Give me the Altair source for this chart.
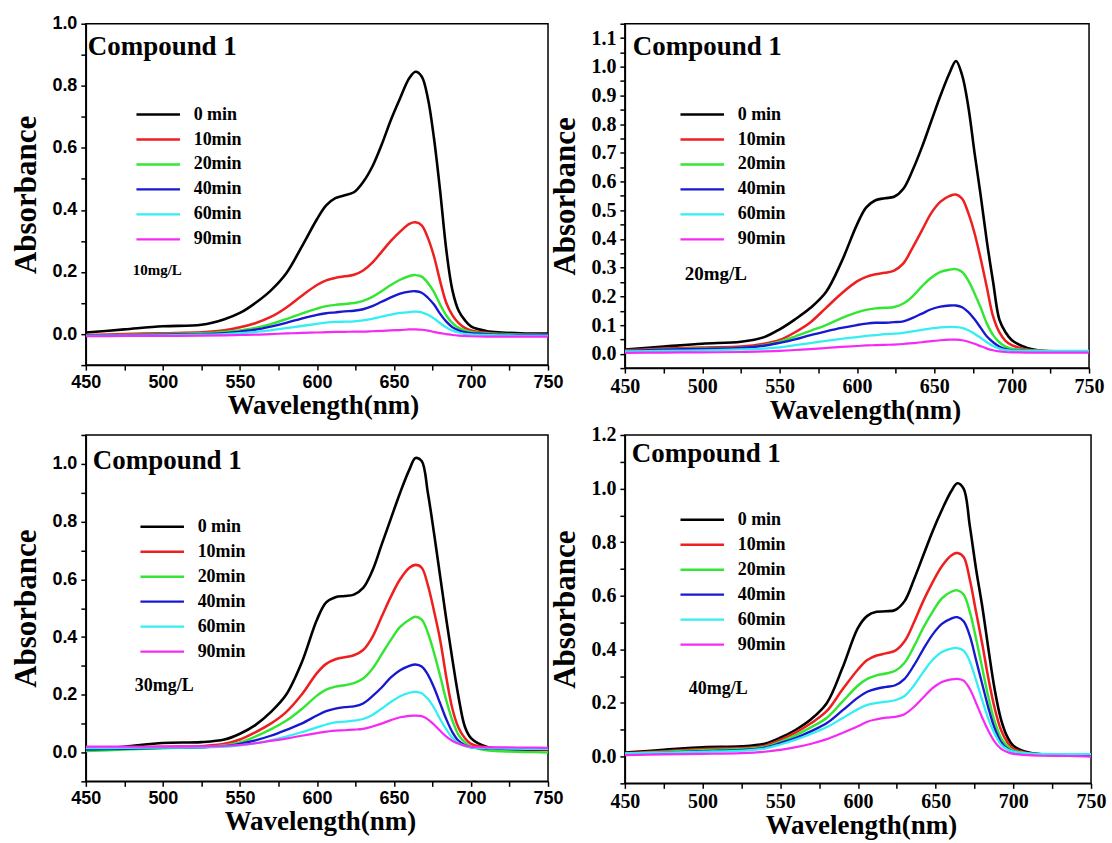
import altair as alt
import pandas as pd

WL = [450, 475, 500, 525, 540, 550, 560, 570, 580, 590, 600, 606, 612, 618, 624, 630, 636,
      642, 648, 654, 660, 664, 668, 672, 676, 680, 684, 688, 692, 696, 700, 710, 720, 735, 750]

SERIES = ["0 min", "10min", "20min", "40min", "60min", "90min"]
COLORS = ["#000000", "#ee1f1f", "#33e633", "#1818d0", "#33eef2", "#f52af5"]
WIDTHS = [2.6, 2.2, 2.2, 2.2, 2.2, 2.2]

# ---- 10 mg/L ----
P1_0 = [.005, .015, .025, .03, .048, .068, .10, .14, .195, .28, .37, .415, .438, .447, .457, .49, .54,
        .61, .69, .76, .825, .845, .83, .76, .63, .46, .27, .14, .075, .045, .025, .01, .005, .002, .002]
P1_10 = [-.003, 0, .003, .006, .012, .022, .035, .055, .085, .123, .158, .173, .181, .186, .191, .205, .23,
         .265, .30, .33, .355, .36, .35, .31, .25, .17, .10, .06, .035, .02, .012, .004, 0, -.002, -.003]
P1_20 = [-.005, -.003, 0, .003, .007, .012, .02, .032, .048, .066, .082, .09, .094, .097, .10, .107, .12,
         .138, .158, .175, .187, .19, .185, .165, .135, .095, .06, .035, .02, .012, .007, .002, 0, -.002, -.003]
P1_40 = [-.005, -.004, -.002, 0, .003, .008, .014, .024, .036, .05, .062, .067, .07, .073, .075, .08, .09,
         .104, .118, .13, .137, .138, .133, .117, .095, .065, .04, .022, .012, .006, .003, 0, -.002, -.003, -.003]
P1_60 = [-.006, -.005, -.004, -.002, 0, .003, .007, .012, .019, .026, .033, .037, .039, .04, .041, .044, .049,
         .056, .063, .068, .071, .072, .07, .062, .05, .035, .021, .011, .005, .001, -.001, -.003, -.004, -.005, -.005]
P1_90 = [-.007, -.006, -.006, -.005, -.004, -.003, -.002, 0, .002, .004, .005, .006, .007, .007, .008, .008, .009,
         .01, .012, .013, .015, .015, .014, .011, .007, .003, 0, -.003, -.005, -.006, -.007, -.008, -.008, -.008, -.008]

# ---- 20 mg/L ----
P2_0 = [.015, .025, .035, .042, .058, .085, .12, .16, .215, .32, .45, .51, .535, .542, .547, .575, .64,
        .72, .81, .90, .98, 1.02, .97, .86, .70, .55, .39, .25, .12, .075, .048, .02, .01, .008, .008]
P2_10 = [.012, .018, .022, .025, .035, .048, .075, .11, .16, .21, .252, .268, .277, .282, .29, .315, .37,
         .43, .49, .53, .55, .555, .54, .49, .42, .33, .23, .13, .075, .045, .03, .015, .01, .008, .008]
P2_20 = [.01, .015, .018, .02, .03, .042, .06, .08, .10, .124, .144, .153, .158, .16, .163, .175, .20,
         .235, .265, .285, .293, .295, .285, .255, .21, .16, .105, .065, .04, .025, .018, .012, .01, .008, .008]
P2_40 = [.01, .014, .017, .02, .028, .038, .05, .065, .078, .09, .10, .105, .108, .108, .11, .113, .125,
         .14, .155, .164, .168, .168, .162, .145, .12, .09, .06, .04, .025, .016, .012, .01, .009, .008, .008]
P2_60 = [.008, .01, .012, .015, .018, .022, .03, .037, .045, .052, .058, .062, .065, .068, .07, .073, .078,
         .083, .088, .092, .094, .093, .09, .082, .07, .055, .04, .027, .018, .013, .011, .01, .01, .01, .01]
P2_90 = [.003, .004, .005, .006, .008, .01, .013, .016, .02, .024, .027, .029, .03, .031, .032, .034, .037,
         .04, .044, .047, .049, .049, .047, .042, .035, .026, .018, .012, .008, .006, .005, .004, .004, .004, .004]

# ---- 30 mg/L ----
P3_0 = [.01, .02, .033, .036, .045, .065, .095, .14, .20, .31, .46, .52, .538, .542, .547, .57, .63,
        .72, .81, .90, .98, 1.02, 1.01, .90, .76, .61, .46, .32, .19, .09, .05, .02, .012, .01, .01]
P3_10 = [.015, .018, .02, .022, .03, .045, .07, .10, .14, .20, .275, .307, .323, .33, .337, .355, .40,
         .47, .54, .60, .64, .65, .64, .58, .49, .39, .26, .15, .085, .05, .03, .018, .015, .012, .01]
P3_20 = [.005, .01, .015, .018, .025, .035, .055, .08, .11, .15, .197, .218, .228, .233, .24, .256, .29,
         .34, .39, .435, .46, .47, .46, .415, .345, .265, .18, .11, .06, .035, .02, .008, .004, .002, 0]
P3_40 = [.01, .013, .016, .018, .022, .03, .042, .058, .078, .10, .128, .143, .152, .157, .16, .17, .195,
         .225, .26, .285, .30, .305, .298, .27, .225, .17, .115, .07, .04, .025, .018, .014, .013, .012, .012]
P3_60 = [.015, .016, .017, .018, .02, .025, .032, .042, .055, .07, .087, .097, .104, .107, .11, .116, .13,
         .152, .175, .195, .207, .21, .205, .186, .155, .115, .08, .05, .032, .022, .018, .015, .014, .013, .013]
P3_90 = [.02, .02, .02, .021, .023, .026, .032, .04, .048, .058, .067, .072, .076, .077, .079, .082, .09,
         .10, .112, .122, .127, .128, .126, .115, .097, .075, .055, .04, .03, .024, .02, .018, .018, .017, .016]

# ---- 40 mg/L ----
P4_0 = [.015, .025, .035, .038, .048, .07, .10, .14, .20, .33, .48, .525, .54, .542, .547, .58, .66,
        .75, .84, .92, .99, 1.02, 1.0, .86, .70, .56, .40, .25, .14, .075, .04, .015, .008, .006, .005]
P4_10 = [.012, .02, .028, .032, .04, .062, .09, .125, .17, .25, .325, .36, .377, .385, .395, .43, .50,
         .58, .65, .71, .75, .76, .745, .66, .54, .42, .29, .18, .10, .055, .03, .012, .007, .005, .005]
P4_20 = [.01, .017, .024, .028, .036, .055, .08, .11, .145, .205, .265, .29, .303, .31, .32, .35, .41,
         .48, .54, .59, .615, .62, .605, .54, .44, .33, .22, .13, .07, .04, .022, .01, .006, .005, .005]
P4_40 = [.008, .014, .02, .025, .033, .05, .07, .095, .125, .172, .22, .242, .253, .26, .266, .29, .34,
         .40, .455, .495, .515, .52, .505, .45, .36, .27, .18, .105, .055, .03, .018, .01, .007, .006, .006]
P4_60 = [.012, .015, .018, .022, .03, .045, .063, .085, .11, .143, .177, .193, .20, .205, .21, .226, .265,
         .315, .36, .39, .403, .405, .395, .355, .285, .21, .14, .085, .045, .027, .018, .012, .01, .009, .009]
P4_90 = [.005, .008, .01, .013, .018, .025, .035, .048, .065, .088, .113, .13, .139, .145, .148, .158, .185,
         .22, .255, .278, .288, .29, .283, .252, .20, .145, .095, .055, .03, .017, .01, .005, .003, .002, 0]

PANELS = [
    [P1_0, P1_10, P1_20, P1_40, P1_60, P1_90],
    [P2_0, P2_10, P2_20, P2_40, P2_60, P2_90],
    [P3_0, P3_10, P3_20, P3_40, P3_60, P3_90],
    [P4_0, P4_10, P4_20, P4_40, P4_60, P4_90],
]
CONC = ["10mg/L", "20mg/L", "30mg/L", "40mg/L"]
TITLE_TEXT = "Compound 1"

SERIF = "Liberation Serif"
SANS = "Liberation Sans"


def make_panel(i, vals, ydom, ystep, ylabel_mult, tick_font, tick_size, w, h,
               leg_xy, comp_xy, conc_xy, conc_size, xtitle_dx):
    rows = []
    for s, arr in zip(SERIES, vals):
        for x, v in zip(WL, arr):
            rows.append({"wl": x, "A": v, "t": s})
    df = pd.DataFrame(rows)

    n0 = round(ydom[0] / ystep)
    n1 = round(ydom[1] / ystep)
    yvals = [round(k * ystep, 3) for k in range(n0, n1 + 1)]
    ylabel_expr = (f"datum.value >= -0.001 && abs(round(datum.value*{round(1/ystep)})) % {ylabel_mult} == 0 "
                   f"? format(datum.value, '.1f') : ''")

    xaxis = alt.Axis(values=list(range(450, 751, 25)),
                     labelExpr="datum.value % 50 == 0 ? datum.label : ''",
                     format="d", grid=False, domainColor="black", domainWidth=1.5,
                     tickColor="black", tickWidth=1.5, tickSize=5,
                     labelFont=tick_font, labelFontWeight="bold", labelFontSize=tick_size,
                     labelColor="black", labelPadding=3, labelFlush=False, labelOverlap=False,
                     title="Wavelength(nm)", titleFont=SERIF, titleFontSize=27,
                     titleFontWeight="bold", titleColor="black", titlePadding=1,
                     titleX=w / 2 + xtitle_dx)
    yaxis = alt.Axis(values=yvals, labelExpr=ylabel_expr, grid=False,
                     domainColor="black", domainWidth=1.5,
                     tickColor="black", tickWidth=1.5, tickSize=5,
                     labelFont=tick_font, labelFontWeight="bold", labelFontSize=tick_size,
                     labelColor="black", labelPadding=4, labelFlush=False, labelOverlap=False,
                     title="Absorbance", titleFont=SERIF, titleFontSize=31,
                     titleFontWeight="bold", titleColor="black", titlePadding=9)

    lines = alt.Chart(df).mark_line(interpolate="catmull-rom", clip=True).encode(
        x=alt.X("wl:Q", scale=alt.Scale(domain=[450, 750], nice=False, zero=False), axis=xaxis),
        y=alt.Y("A:Q", scale=alt.Scale(domain=ydom, nice=False, zero=False), axis=yaxis),
        color=alt.Color("t:N", sort=SERIES,
                        scale=alt.Scale(domain=SERIES, range=COLORS),
                        legend=alt.Legend(orient="none", legendX=leg_xy[0], legendY=leg_xy[1],
                                          title=None, symbolType="stroke", symbolSize=1900,
                                          symbolStrokeWidth=2.5, labelFont=SERIF,
                                          labelFontWeight="bold", labelFontSize=18,
                                          labelColor="black", labelOffset=12, clipHeight=18,
                                          rowPadding=7, padding=0, labelLimit=0, direction="vertical")),
        strokeWidth=alt.StrokeWidth("t:N", sort=SERIES,
                                    scale=alt.Scale(domain=SERIES, range=WIDTHS), legend=None),
    )

    comp = alt.Chart(pd.DataFrame({"s": [TITLE_TEXT]})).mark_text(
        font=SERIF, fontWeight="bold", fontSize=27, align="left", baseline="middle", color="black"
    ).encode(text="s:N", x=alt.value(comp_xy[0]), y=alt.value(comp_xy[1]))

    conc = alt.Chart(pd.DataFrame({"s": [CONC[i]]})).mark_text(
        font=SERIF, fontWeight="bold", fontSize=conc_size, align="left", baseline="middle", color="black"
    ).encode(text="s:N", x=alt.value(conc_xy[0]), y=alt.value(conc_xy[1]))

    return alt.layer(lines, comp, conc).properties(width=w, height=h)


p1 = make_panel(0, PANELS[0], [-0.1, 1.0], 0.1, 2, SANS, 18, 463, 342, (49, 82), (2, 23), (47, 247), 15, 6)
p2 = make_panel(1, PANELS[1], [-0.05, 1.15], 0.05, 2, SERIF, 20, 465, 345, (54, 82), (8, 23), (60, 251), 19, 8)
p3 = make_panel(2, PANELS[2], [-0.1, 1.1], 0.1, 2, SANS, 18, 463, 347, (53, 83), (7, 26), (49, 251), 18, 3)
p4 = make_panel(3, PANELS[3], [-0.1, 1.2], 0.1, 2, SERIF, 20, 467, 349, (54, 76), (7, 19), (64, 254), 18, 3)

chart = alt.concat(p1, p2, p3, p4, columns=2, spacing={"row": 67, "column": 77}, bounds="flush").resolve_scale(
    color="independent", strokeWidth="independent", x="independent", y="independent"
).resolve_legend(color="independent").configure_view(
    stroke="black", strokeWidth=1.5
).properties(padding={"left": 10, "top": 12, "right": 5, "bottom": 5}, background="white")

chart.save("out.html", embed_options={"renderer": "svg", "actions": False})
